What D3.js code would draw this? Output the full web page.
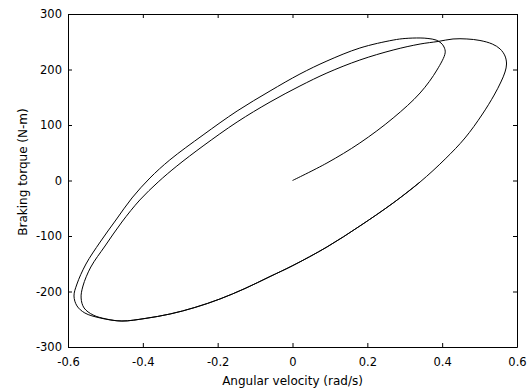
<!DOCTYPE html>
<html>
<head>
<meta charset="utf-8">
<script src="https://cdn.jsdelivr.net/npm/d3@7"></script>
<style>
  html, body { margin: 0; padding: 0; background: #fff; }
  svg { display: block; }
</style>
</head>
<body>
<div id="chart"></div>
<script>
// --- DATA ---
// start-up transient: from rest, up to the first peak, round the outer left side
const startVel = [0, 0.092, 0.180, 0.269, 0.341, 0.386, 0.408, 0.405, 0.397, 0.384, 0.362, 0.341, 0.301,
  0.269, 0.180, 0.092, 0.020, -0.060, -0.148, -0.239, -0.328, -0.381, -0.429, -0.472, -0.514, -0.552,
  -0.576, -0.584, -0.576, -0.555, -0.514];
const startTorque = [0, 31.5, 67.6, 112.6, 157.7, 199, 230, 240.5, 247.7, 253, 255.9, 256.8, 255.9,
  253, 238.7, 215.3, 191.9, 161.3, 125.2, 82, 37, 4.5, -31.5, -71.2, -110.8, -150.5,
  -186.5, -208.1, -226, -238.7, -247.7];

// settled cycle: bottom -> right side -> top -> inner left side -> bottom, then along the bottom again
const cycleVel = [-0.456, -0.394, -0.327, -0.261, -0.194, -0.127, -0.060, 0.001, 0.092, 0.180, 0.269, 0.341,
  0.408, 0.461, 0.506, 0.539, 0.557, 0.568, 0.572, 0.568, 0.555, 0.534, 0.501, 0.466, 0.429, 0.389, 0.341,
  0.269, 0.180, 0.092, 0.020, -0.060, -0.148, -0.239, -0.309, -0.359, -0.408, -0.456, -0.501, -0.539,
  -0.560, -0.565, -0.557, -0.533, -0.498, -0.456, -0.394, -0.327, -0.261, -0.194, -0.127, -0.060, 0.001,
  0.092, 0.180, 0.269, 0.341];
const cycleTorque = [-253.2, -248.6, -240.5, -228.8, -213.5, -194.6, -173, -153.2, -119.8, -82, -40.5, -2.7,
  38.7, 76.6, 118, 154, 177.5, 195.5, 209.9, 224.3, 236.9, 245.9, 252.3, 255, 255, 250.5, 245.9,
  235.1, 217.1, 193.7, 170.3, 141.4, 105.4, 62.2, 26.1, -2.7, -35.1, -74.8, -118, -155.9,
  -190.1, -211.7, -229.7, -242.3, -249.5, -253.2, -248.6, -240.5, -228.8, -213.5, -194.6, -173, -153.2,
  -119.8, -82, -40.5, -2.7];

const xTicks = [-0.6, -0.4, -0.2, 0, 0.2, 0.4, 0.6];
const yTicks = [-300, -200, -100, 0, 100, 200, 300];

// --- LAYOUT ---
const WIDTH = 531, HEIGHT = 392;
const MARGIN = { top: 14, right: 14, bottom: 45, left: 68 };
const FONT = "'DejaVu Sans', 'Liberation Sans', Arial, sans-serif";

const x = d3.scaleLinear().domain([-0.6, 0.6]).range([MARGIN.left, WIDTH - MARGIN.right]);
const y = d3.scaleLinear().domain([-300, 300]).range([HEIGHT - MARGIN.bottom, MARGIN.top]);

const svg = d3.select("#chart").append("svg")
  .attr("width", WIDTH).attr("height", HEIGHT)
  .style("font-family", FONT);

const points = startVel.map((v, i) => [v, startTorque[i]])
  .concat(cycleVel.map((v, i) => [v, cycleTorque[i]]));

const line = d3.line()
  .x(d => x(d[0]))
  .y(d => y(d[1]))
  .curve(d3.curveCatmullRom.alpha(0.5));

svg.append("path")
  .datum(points)
  .attr("fill", "none")
  .attr("stroke", "#000")
  .attr("stroke-width", 1)
  .attr("d", line);

// axes: ticks point inward, mirrored on top/right without labels
const fmt = d => String(d); // plain hyphen for negatives, like the original

const styleAxis = g => {
  g.select(".domain").attr("stroke", "#000");
  g.selectAll(".tick line").attr("stroke", "#000");
  g.selectAll("text").attr("fill", "#000").attr("font-size", "11.5px").attr("font-family", FONT);
};

svg.append("g")
  .attr("transform", `translate(0,${HEIGHT - MARGIN.bottom})`)
  .call(d3.axisBottom(x).tickValues(xTicks).tickFormat(fmt).tickSizeInner(-4).tickSizeOuter(0).tickPadding(11))
  .call(styleAxis);

svg.append("g")
  .attr("transform", `translate(0,${MARGIN.top})`)
  .call(d3.axisTop(x).tickValues(xTicks).tickFormat("").tickSizeInner(-4).tickSizeOuter(0))
  .call(styleAxis);

svg.append("g")
  .attr("transform", `translate(${MARGIN.left},0)`)
  .call(d3.axisLeft(y).tickValues(yTicks).tickFormat(fmt).tickSizeInner(-4).tickSizeOuter(0).tickPadding(6))
  .call(styleAxis);

svg.append("g")
  .attr("transform", `translate(${WIDTH - MARGIN.right},0)`)
  .call(d3.axisRight(y).tickValues(yTicks).tickFormat("").tickSizeInner(-4).tickSizeOuter(0))
  .call(styleAxis);

// axis titles
svg.append("text")
  .attr("x", (MARGIN.left + WIDTH - MARGIN.right) / 2)
  .attr("y", 385)
  .attr("text-anchor", "middle")
  .attr("font-size", "12px")
  .text("Angular velocity (rad/s)");

svg.append("text")
  .attr("transform", "translate(27,172) rotate(-90)")
  .attr("text-anchor", "middle")
  .attr("font-size", "12px")
  .text("Braking torque (N-m)");
</script>
</body>
</html>
